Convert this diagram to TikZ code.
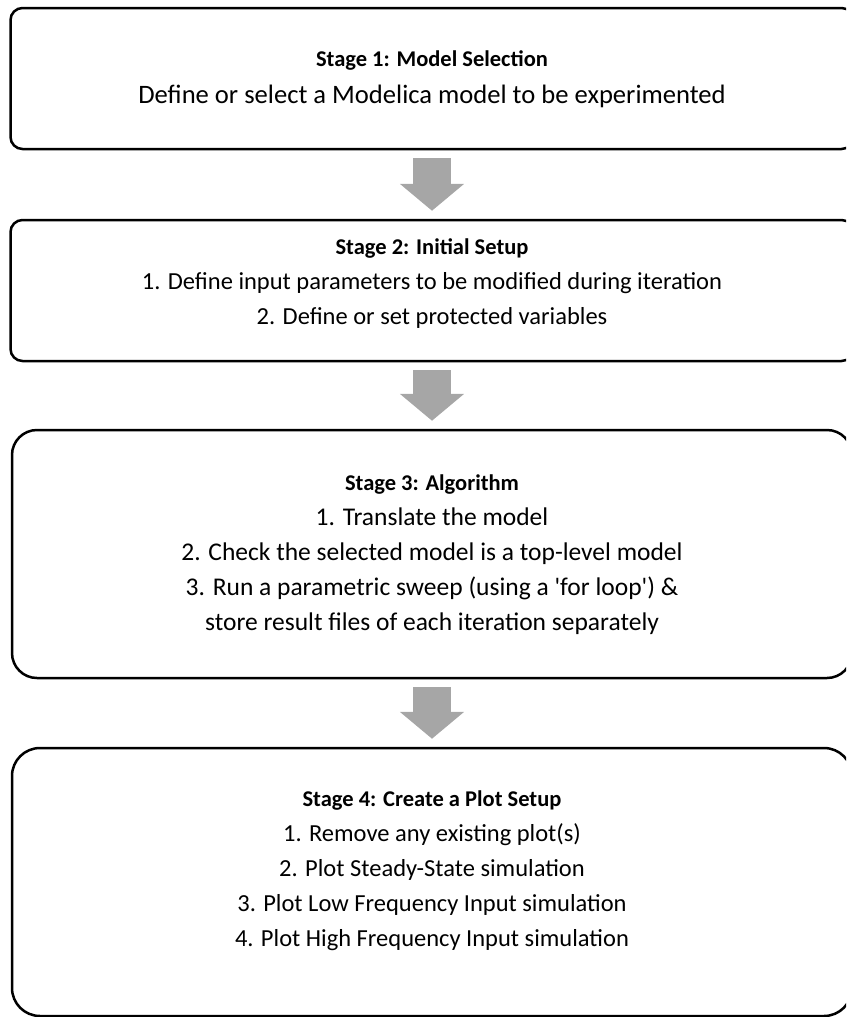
\documentclass[tikz,border=0pt]{standalone}
\usepackage{fontspec}
\setmainfont{Carlito}
\usetikzlibrary{arrows.meta,positioning}

\definecolor{arrowgray}{HTML}{A6A6A6}
\newcommand{\stagetitle}[1]{{\fontsize{22.5}{35}\selectfont\bfseries #1}}

\begin{document}
\begin{tikzpicture}[
        x=1pt, y=-1pt,
        stagebox/.style={draw=black, line width=2.5pt, minimum width=843pt},
        stagetext/.style={align=center, font=\fontsize{#1}{35}\selectfont, inner sep=0pt},
        stagearrow/.style={draw=arrowgray, line width=38pt,
            -{Triangle[width=63pt, length=27pt]}, shorten <=8pt, shorten >=8pt}
    ]

    \clip (0,0) rectangle (846,1017);

    % Boxes
    \node[stagebox, rounded corners=12pt, minimum height=141pt] (s1) at (432,78.5) {};
    \node[stagebox, rounded corners=12pt, minimum height=141pt] (s2) at (432,290.5) {};
    \node[stagebox, rounded corners=25pt, minimum width=840pt, minimum height=248pt] (s3) at (432,554) {};
    \node[stagebox, rounded corners=28pt, minimum width=840pt, minimum height=268pt] (s4) at (432,882) {};

    % Texts
    \node[stagetext=26.6] (t1) at ([yshift=-1pt]s1.center) {\stagetitle{Stage 1: Model Selection}\\[2pt]
        Define or select a Modelica model to be experimented};
    \node[stagetext=24.5] (t2) at ([yshift=7pt]s2.center) {\stagetitle{Stage 2: Initial Setup}\\
        1. Define input parameters to be modified during iteration\\
        2. Define or set protected variables};
    \node[stagetext=25.5] (t3) at ([yshift=-1pt]s3.center) {\stagetitle{Stage 3: Algorithm}\\
        1. Translate the model\\
        2. Check the selected model is a top-level model\\
        3. Run a parametric sweep (using a \textquotesingle for loop\textquotesingle) \&\\
        store result files of each iteration separately};
    \node[stagetext=24.5] (t4) at ([yshift=11pt]s4.center) {\stagetitle{Stage 4: Create a Plot Setup}\\
        1. Remove any existing plot(s)\\
        2. Plot Steady-State simulation\\
        3. Plot Low Frequency Input simulation\\
        4. Plot High Frequency Input simulation};

    % Arrows
    \draw[stagearrow] (s1) -- (s2);
    \draw[stagearrow] (s2) -- (s3);
    \draw[stagearrow] (s3) -- (s4);

\end{tikzpicture}
\end{document}
